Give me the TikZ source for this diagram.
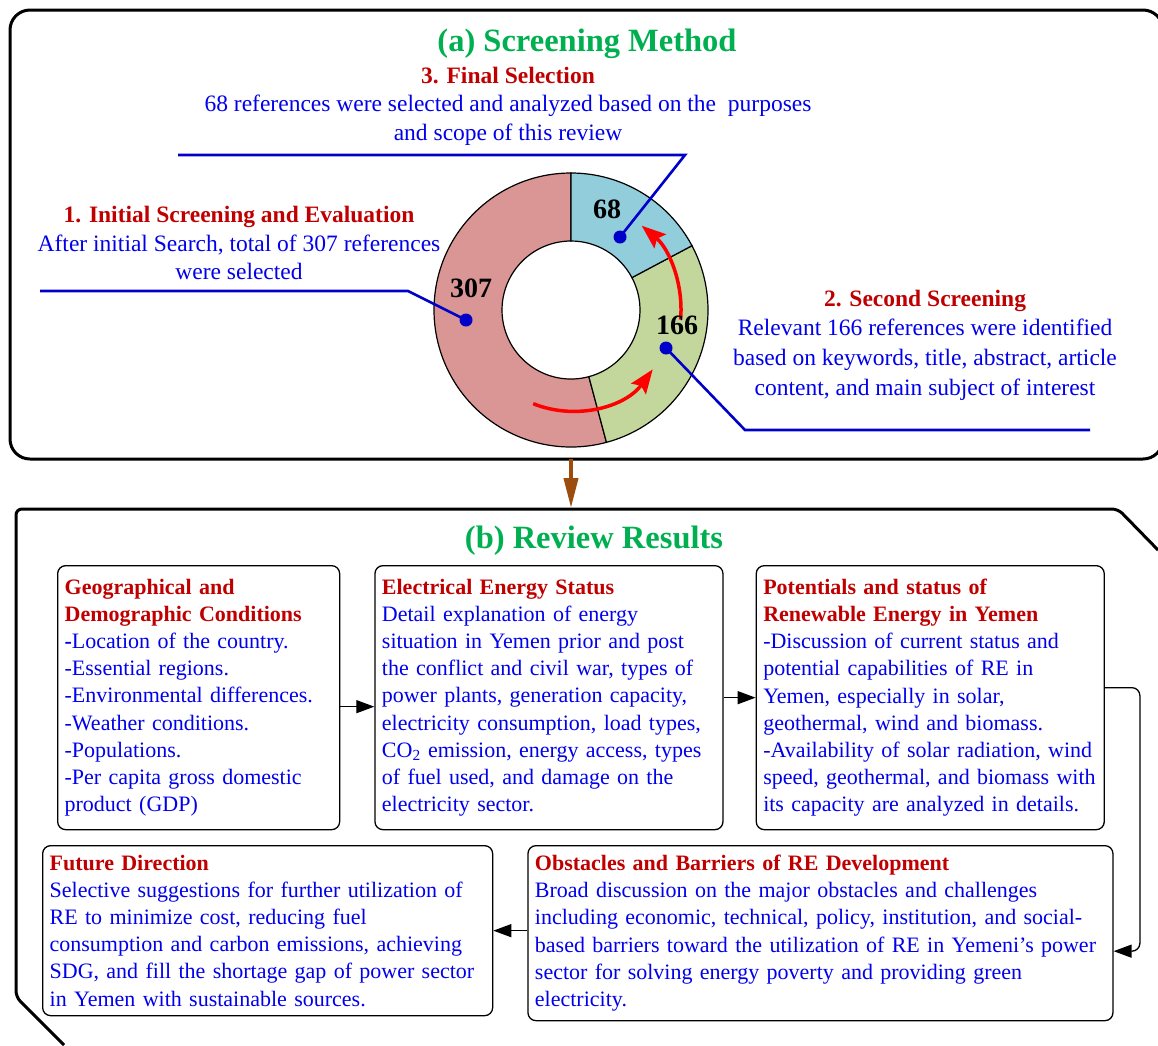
\documentclass[tikz,border=0pt]{standalone}
\usepackage{fontspec}
\setmainfont{Liberation Serif}
\usetikzlibrary{positioning,arrows.meta}
\definecolor{headred}{RGB}{192,0,0}
\definecolor{txtblue}{RGB}{0,0,235}
\definecolor{leadblue}{RGB}{0,0,200}
\definecolor{ttlgreen}{RGB}{0,176,80}
\definecolor{seg307}{RGB}{217,150,148}
\definecolor{seg166}{RGB}{195,214,155}
\definecolor{seg68}{RGB}{146,205,220}
\definecolor{flowbrown}{RGB}{156,76,12}
\newcommand\txt{\fontsize{22}{27.2}\selectfont}
\newcommand\notetxt{\fontsize{23.5}{28.5}\selectfont}
\newcommand\hd[1]{\textcolor{headred}{\textbf{#1}}}

\begin{document}
\begin{tikzpicture}[x=1pt,y=-1pt,
    outline/.style={line width=3pt},
    ttl/.style={font=\fontsize{32.5}{38}\selectfont\bfseries, text=ttlgreen},
    note/.style={font=\notetxt, text=txtblue, align=center, inner sep=0pt},
    resbox/.style={draw, line width=1.3pt, rounded corners=8pt, font=\txt,
      text=txtblue, align=left, anchor=north west, inner xsep=7pt, inner ysep=9pt},
    flow/.style={line width=1.3pt, -{Triangle[length=18pt,width=13pt]}},
    leader/.style={line width=2.6pt, leadblue},
    dot/.style={circle, fill=leadblue, inner sep=0pt, minimum size=13pt},
    num/.style={font=\fontsize{28}{32}\selectfont\bfseries},
    seg/.style={draw, line width=1.2pt},
    turn/.style={red, line width=3.5pt, -{Stealth[length=24pt,width=18pt,inset=4pt]}}]
  \useasboundingbox (0,0) rectangle (1158,1045);

  \draw[outline, rounded corners=20pt] (10,10) rectangle (1163,459);
  \draw[outline, rounded corners=6pt] (1158,550) -- (1118,509) -- (16,509) -- (16,997) -- (64,1045);

  \node[ttl] (ttlA) at (587,44) {(a) Screening Method};
  \node[ttl] (ttlB) at (594,541) {(b) Review Results};

  \node[note] (fin) at (508,106) {\hd{3. Final Selection}\\
    68 references were selected and analyzed based on the\ \ purposes\\
    and scope of this review};
  \node[note] (ini) at (239,243) {\hd{1. Initial Screening and Evaluation}\\
    After initial Search, total of 307 references\\
    were selected};
  \node[note, font=\fontsize{23.5}{29.6}\selectfont] (sec) at (925,345) {\hd{2. Second Screening}\\
    Relevant 166 references were identified\\
    based on keywords, title, abstract, article\\
    content, and main subject of interest};

  \begin{scope}[shift={(571,310)}, y=1pt]
    \draw[seg, fill=seg307] (90:137) arc[start angle=90, end angle=285, radius=137]
      -- (285:69) arc[start angle=285, end angle=90, radius=69] -- cycle;
    \draw[seg, fill=seg166] (-75:137) arc[start angle=-75, end angle=28, radius=137]
      -- (28:69) arc[start angle=28, end angle=-75, radius=69] -- cycle;
    \draw[seg, fill=seg68] (28:137) arc[start angle=28, end angle=90, radius=137]
      -- (90:69) arc[start angle=90, end angle=28, radius=69] -- cycle;
    \draw[turn] (-112:101) arc[start angle=-112, end angle=-36, radius=101];
    \draw[turn] (-5:110) arc[start angle=-5, end angle=50, radius=110];
    \node[num] (n307) at (-100,22) {307};
    \node[num] (n68) at (36,101) {68};
    \node[num] (n166) at (106,-15) {166};
    \node[dot] (d307) at (-105,-10) {};
    \node[dot] (d68) at (49,73) {};
    \node[dot] (d166) at (95,-38) {};
  \end{scope}

  \coordinate (k68) at (685,155);
  \coordinate (e68) at (178,155);
  \coordinate (k307) at (408,291);
  \coordinate (e307) at (40,291);
  \coordinate (k166) at (745,430);
  \coordinate (e166) at (1090,430);
  \draw[leader] (d68.center) -- (k68) -- (e68);
  \draw[leader] (d307.center) -- (k307) -- (e307);
  \draw[leader] (d166.center) -- (k166) -- (e166);

  \coordinate (topbase) at (571,459);
  \coordinate (botbase) at (571,508);
  \draw[flowbrown, line width=4pt, -{Triangle[length=30pt,width=14pt]}] (topbase) -- (botbase);

  \node[resbox, text width=268pt, minimum height=264pt] (geo) at (57,565) {%
    \hd{Geographical and}\\
    \hd{Demographic Conditions}\\
    \textbf{-}Location of the country.\\
    -Essential regions.\\
    -Environmental differences.\\
    -Weather conditions.\\
    -Populations.\\
    -Per capita gross domestic\\
    product (GDP)};
  \node[resbox, text width=334pt, minimum height=264pt, right=34pt of geo.north east, anchor=north west] (elec) {%
    \hd{Electrical Energy Status}\\
    Detail explanation of energy\\
    situation in Yemen prior and post\\
    the conflict and civil war, types of\\
    power plants, generation capacity,\\
    electricity consumption, load types,\\
    CO\textsubscript{2} emission, energy access, types\\
    of fuel used, and damage on the\\
    electricity sector.};
  \node[resbox, text width=334pt, minimum height=264pt, right=32pt of elec.north east, anchor=north west] (pot) {%
    \hd{Potentials and status of}\\
    \hd{Renewable Energy in Yemen}\\
    -Discussion of current status and\\
    potential capabilities of RE in\\
    Yemen, especially in solar,\\
    geothermal, wind and biomass.\\
    -Availability of solar radiation, wind\\
    speed, geothermal, and biomass with\\
    its capacity are analyzed in details.};
  \node[resbox, text width=436pt, minimum height=170pt] (fut) at (42,845) {%
    \hd{Future Direction}\\
    Selective suggestions for further utilization of\\
    RE to minimize cost, reducing fuel\\
    consumption and carbon emissions, achieving\\
    SDG, and fill the shortage gap of power sector\\
    in Yemen with sustainable sources.};
  \node[resbox, text width=571pt, minimum height=175pt, right=34pt of fut.north east, anchor=north west] (obs) {%
    \hd{Obstacles and Barriers of RE Development}\\
    Broad discussion on the major obstacles and challenges\\
    including economic, technical, policy, institution, and social-\\
    based barriers toward the utilization of RE in Yemeni’s power\\
    sector for solving energy poverty and providing green\\
    electricity.};

  \draw[flow] ([yshift=-9pt]geo.east) -- ([yshift=-9pt]geo.east -| elec.west);
  \draw[flow] (elec.east) -- (elec.east -| pot.west);
  \draw[flow, rounded corners=8pt] ([yshift=10pt]pot.east) -- ++(35,0) |- ([yshift=-18pt]obs.east);
  \draw[flow] (obs.west |- fut.east) -- (fut.east);
\end{tikzpicture}
\end{document}
